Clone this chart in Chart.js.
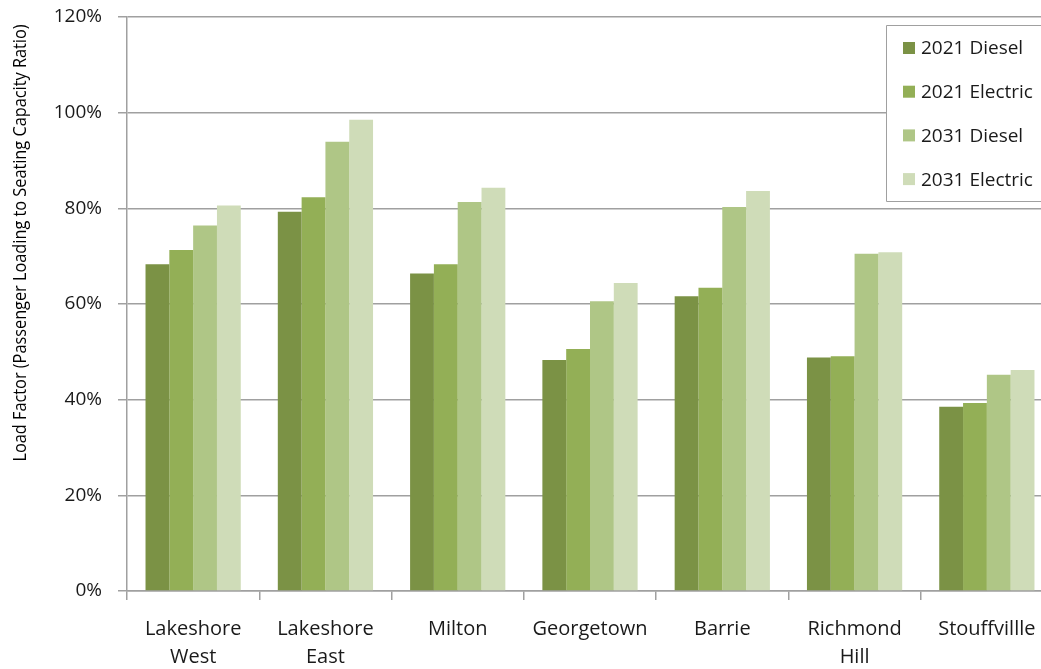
<!DOCTYPE html>
<html><head><meta charset="utf-8">
<script src="https://cdn.jsdelivr.net/npm/chart.js@4.4.1/dist/chart.umd.min.js"></script>
<style>
html,body{margin:0;padding:0;overflow:hidden;background:#fff}
#wrap{width:1060px;height:669px;position:relative}
</style></head>
<body><div id="wrap"><canvas id="c"></canvas></div>
<script>
const categories = [['Lakeshore','West'],['Lakeshore','East'],['Milton'],['Georgetown'],['Barrie'],['Richmond','Hill'],['Stouffvillle']];
const seriesNames = ['2021 Diesel','2021 Electric','2031 Diesel','2031 Electric'];
const diesel2021   = [68.3, 79.3, 66.4, 48.3, 61.6, 48.8, 38.5];
const electric2021 = [71.3, 82.3, 68.3, 50.6, 63.4, 49.1, 39.3];
const diesel2031   = [76.4, 93.9, 81.3, 60.6, 80.3, 70.5, 45.2];
const electric2031 = [80.6, 98.5, 84.3, 64.4, 83.6, 70.8, 46.2];
const yAxisTitle = 'Load Factor (Passenger Loading to Seating Capacity Ratio)';
const colors = ['#7B9245','#93AF56','#AFC686','#CFDCB8'];

const FONT = '"Open Sans", "Noto Sans", sans-serif';
const GRID = '#A0A0A0';

const boxLegend = {
  id: 'boxLegend',
  afterDatasetsDraw(chart) {
    const ctx = chart.ctx;
    ctx.save();
    const x = 886, y = 25, w = 220, h = 176;
    ctx.fillStyle = '#fff';
    ctx.fillRect(x, y, w, h);
    ctx.strokeStyle = '#A0A0A0';
    ctx.lineWidth = 1;
    ctx.beginPath();
    ctx.moveTo(x + w, y + 0.5);
    ctx.lineTo(x + 0.5, y + 0.5);
    ctx.lineTo(x + 0.5, y + h + 0.5);
    ctx.lineTo(x + w, y + h + 0.5);
    ctx.stroke();
    ctx.font = '19px ' + FONT;
    ctx.textBaseline = 'middle';
    ctx.textAlign = 'left';
    chart.data.datasets.forEach((ds, i) => {
      const cy = 48 + i * 43.7;
      ctx.fillStyle = ds.backgroundColor;
      ctx.fillRect(903, cy - 6, 12, 12);
      ctx.fillStyle = '#1a1a1a';
      ctx.fillText(ds.label, 921, cy + 1);
    });
    ctx.restore();
  }
};

const yTitlePlugin = {
  id: 'yTitle',
  afterDraw(chart) {
    const ctx = chart.ctx;
    ctx.save();
    ctx.translate(21, 243);
    ctx.rotate(-Math.PI / 2);
    ctx.font = '18px ' + FONT;
    ctx.fillStyle = '#000';
    ctx.textAlign = 'center';
    ctx.textBaseline = 'middle';
    const tw = ctx.measureText(yAxisTitle).width;
    const target = 437;
    ctx.scale(target / tw, 1);
    ctx.fillText(yAxisTitle, 0, 0);
    ctx.restore();
  }
};

new Chart(document.getElementById('c'), {
  type: 'bar',
  data: {
    labels: categories,
    datasets: [
      { label: seriesNames[0], data: diesel2021,   backgroundColor: colors[0] },
      { label: seriesNames[1], data: electric2021, backgroundColor: colors[1] },
      { label: seriesNames[2], data: diesel2031,   backgroundColor: colors[2] },
      { label: seriesNames[3], data: electric2031, backgroundColor: colors[3] }
    ]
  },
  options: {
    responsive: true,
    maintainAspectRatio: false,
    animation: false,
    devicePixelRatio: 1,
    layout: { padding: { top: 17, right: 7, left: 0, bottom: 0 } },
    datasets: { bar: { categoryPercentage: 0.72, barPercentage: 1.0, borderWidth: 0 } },
    plugins: { legend: { display: false }, tooltip: { enabled: false } },
    scales: {
      x: {
        afterFit(s) { s.height = 78; s.paddingLeft = 0; s.paddingRight = 0; },
        grid: { display: true, drawOnChartArea: false, drawTicks: true, tickLength: 9, color: GRID, lineWidth: 1.5, offset: true },
        border: { display: true, color: GRID, width: 1.5 },
        ticks: { color: '#1a1a1a', font: { family: FONT, size: 20, lineHeight: 1.4 }, padding: 15, maxRotation: 0, autoSkip: false }
      },
      y: {
        min: 0, max: 120,
        afterFit(s) { s.width = 127; s.paddingTop = 0; s.paddingBottom = 0; },
        grid: { color: GRID, lineWidth: 1.5, tickLength: 9, drawTicks: true },
        border: { display: true, color: GRID, width: 1.5 },
        ticks: { stepSize: 20, color: '#1a1a1a', font: { family: FONT, size: 19 }, padding: 16, callback: v => v + '%' }
      }
    }
  },
  plugins: [boxLegend, yTitlePlugin]
});
</script>
</body></html>
